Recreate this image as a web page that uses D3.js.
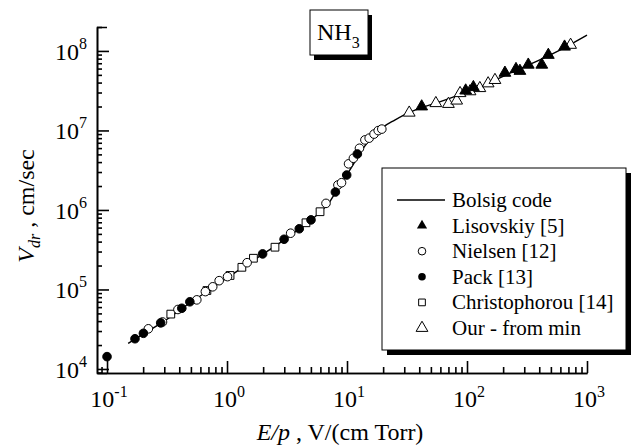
<!DOCTYPE html>
<html>
<head>
<meta charset="utf-8">
<script src="https://cdn.jsdelivr.net/npm/d3@7"></script>
<style>
  body { margin: 0; background: #fff; }
  svg { display: block; }
  svg text { font-family: "Liberation Serif", "Times New Roman", Times, "DejaVu Serif", serif; }
</style>
</head>
<body>
<svg id="chart" width="631" height="447"></svg>
<script>
// values
const bolsigEp = [0.15, 0.2, 0.3, 0.5, 0.7, 1, 1.5, 2, 3, 4, 5, 6, 7, 8, 9, 10, 11, 12, 14, 16, 18, 20, 25, 30, 40, 60, 100, 150, 200, 300, 500, 700, 1000];
const bolsigV = [2.1e4, 2.75e4, 4.0e4, 6.9e4, 9.7e4, 1.4e5, 2.1e5, 2.8e5, 4.2e5, 5.8e5, 7.4e5, 9.5e5, 1.2e6, 1.65e6, 2.2e6, 2.8e6, 3.5e6, 4.4e6, 6.3e6, 8.0e6, 9.6e6, 1.1e7, 1.35e7, 1.57e7, 1.9e7, 2.3e7, 3.05e7, 3.9e7, 4.8e7, 6.3e7, 9.0e7, 1.17e8, 1.58e8];

const lisovskiyEp = [41.9, 97.5, 113, 207, 256, 276, 324, 420, 476, 650];
const lisovskiyV = [2.0e7, 3.17e7, 3.5e7, 5.3e7, 5.9e7, 5.6e7, 6.7e7, 6.7e7, 8.9e7, 1.13e8];

const nielsenEp = [0.221, 0.29, 0.39, 0.56, 0.66, 0.76, 0.86, 1.01, 1.47, 3.39, 6.68, 8.4, 9.0, 10.3, 11.3, 12.7, 14.1, 15.3, 16.8, 18.2, 19.5];
const nielsenV = [3.2e4, 3.9e4, 5.6e4, 7.4e4, 9.4e4, 1.08e5, 1.29e5, 1.45e5, 2.17e5, 5.1e5, 1.21e6, 2.06e6, 2.2e6, 3.8e6, 4.47e6, 5.97e6, 7.6e6, 8.0e6, 9.0e6, 9.96e6, 1.04e7];

const packEp = [0.1, 0.171, 0.201, 0.28, 0.42, 0.49, 1.98, 2.99, 4.0, 5.01, 8.0, 9.94, 12.2];
const packV = [1.43e4, 2.4e4, 2.81e4, 3.8e4, 5.8e4, 7.0e4, 2.8e5, 4.28e5, 5.8e5, 7.5e5, 1.68e6, 2.75e6, 5.06e6];

const christEp = [0.34, 0.68, 1.06, 1.33, 1.66, 2.51, 4.55, 5.96];
const christV = [4.9e4, 9.7e4, 1.5e5, 1.9e5, 2.47e5, 3.4e5, 6.9e5, 9.5e5];

const ourEp = [33, 55, 70, 82, 87.5, 106, 128, 150, 171, 730];
const ourV = [1.67e7, 2.2e7, 2.15e7, 2.37e7, 2.94e7, 3.1e7, 3.4e7, 3.9e7, 4.3e7, 1.19e8];

const xMajor = [0.1, 1, 10, 100, 1000];
const xExp = ["-1", "0", "1", "2", "3"];
const yMajor = [1e4, 1e5, 1e6, 1e7, 1e8];
const yExp = ["4", "5", "6", "7", "8"];

const serif = '"Liberation Serif", "Times New Roman", Times, "DejaVu Serif", serif';
const svg = d3.select("#chart").attr("font-family", serif);
const x = d3.scaleLog().domain([0.0825, 1000]).range([97, 587]);
const y = d3.scaleLog().domain([8.9e3, 2e8]).range([373, 27]);

const zip = (a, b) => a.map((d, i) => [d, b[i]]);

// axes: minor ticks first, then majors
const isMajor = v => Math.abs(Math.log10(v) - Math.round(Math.log10(v))) < 1e-6;
const xMinor = x.ticks().filter(v => !isMajor(v));
const yMinor = y.ticks().filter(v => !isMajor(v));

const xAxisG = svg.append("g").attr("transform", "translate(0,373)");
xAxisG.call(d3.axisBottom(x).tickValues(xMinor).tickSize(-6).tickSizeOuter(0).tickFormat(""));
xAxisG.call(g => g.append("g").call(d3.axisBottom(x).tickValues(xMajor).tickSize(-12).tickSizeOuter(0).tickFormat("")));

const yAxisG = svg.append("g").attr("transform", "translate(97,0)");
yAxisG.call(d3.axisLeft(y).tickValues(yMinor).tickSize(-5).tickSizeOuter(-10).tickFormat(""));
yAxisG.call(g => g.append("g").call(d3.axisLeft(y).tickValues(yMajor).tickSize(-12).tickSizeOuter(0).tickFormat("")));

svg.selectAll(".domain, .tick line").attr("stroke", "#000").attr("stroke-width", 1.6);

// tick labels with superscripts
const xl = svg.append("g").selectAll("text").data(xMajor).join("text")
    .attr("x", d => x(d) + 2).attr("y", 407)
    .attr("text-anchor", "middle").attr("font-size", 24);
xl.append("tspan").text("10");
xl.append("tspan").attr("dy", -10).attr("font-size", 16).text((d, i) => xExp[i]);

const yl = svg.append("g").selectAll("text").data(yMajor).join("text")
    .attr("x", 87).attr("y", d => y(d) + 9)
    .attr("text-anchor", "end").attr("font-size", 24);
yl.append("tspan").text("10");
yl.append("tspan").attr("dy", -11).attr("font-size", 16).text((d, i) => yExp[i]);

// axis titles
const xt = svg.append("text").attr("x", 340).attr("y", 440)
    .attr("text-anchor", "middle").attr("font-size", 24);
xt.append("tspan").attr("font-style", "italic").text("E/p");
xt.append("tspan").text(" , V/(cm Torr)");

const yt = svg.append("text").attr("transform", "translate(34,206) rotate(-90)")
    .attr("text-anchor", "middle").attr("font-size", 24);
yt.append("tspan").attr("font-style", "italic").text("V");
yt.append("tspan").attr("font-style", "italic").attr("font-size", 16).attr("dy", 6).text("dr");
yt.append("tspan").attr("dy", -6).text(" , cm/sec");

// Bolsig curve
const line = d3.line().x(d => x(d[0])).y(d => y(d[1])).curve(d3.curveMonotoneX);
svg.append("path").datum(zip(bolsigEp, bolsigV))
    .attr("d", line).attr("fill", "none").attr("stroke", "#000").attr("stroke-width", 1.4);

// marker shapes
const tri = d3.symbol().type(d3.symbolTriangle).size(60);
const sq = d3.symbol().type(d3.symbolSquare).size(60);

const plot = svg.append("g");
function points(ep, v, kind, fill) {
    const data = zip(ep, v);
    if (kind === "circle") {
        plot.append("g").selectAll("circle").data(data).join("circle")
            .attr("cx", d => x(d[0])).attr("cy", d => y(d[1])).attr("r", 4.3)
            .attr("fill", fill).attr("stroke", "#000").attr("stroke-width", 1);
    } else {
        plot.append("g").selectAll("path").data(data).join("path")
            .attr("d", kind === "tri" ? tri : sq)
            .attr("transform", d => "translate(" + x(d[0]) + "," + y(d[1]) + ")")
            .attr("fill", fill).attr("stroke", "#000").attr("stroke-width", 1);
    }
}
points(christEp, christV, "square", "#fff");
points(nielsenEp, nielsenV, "circle", "#fff");
points(packEp, packV, "circle", "#000");
points(ourEp, ourV, "tri", "#fff");
points(lisovskiyEp, lisovskiyV, "tri", "#000");

// NH3 label box
svg.append("rect").attr("x", 314).attr("y", 15).attr("width", 58).attr("height", 45).attr("fill", "#000");
svg.append("rect").attr("x", 310).attr("y", 10).attr("width", 58).attr("height", 45)
    .attr("fill", "#fff").attr("stroke", "#000").attr("stroke-width", 1);
const nh = svg.append("text").attr("x", 317).attr("y", 40).attr("font-size", 24);
nh.append("tspan").text("NH");
nh.append("tspan").attr("dy", 8).attr("font-size", 16).text("3");

// legend
const legendNames = ["Bolsig code", "Lisovskiy [5]", "Nielsen [12]", "Pack [13]", "Christophorou [14]", "Our - from min"];
svg.append("rect").attr("x", 387).attr("y", 173).attr("width", 245).attr("height", 182).attr("fill", "#000");
svg.append("rect").attr("x", 382).attr("y", 168).attr("width", 244).attr("height", 182)
    .attr("fill", "#fff").attr("stroke", "#000").attr("stroke-width", 1);
const lg = svg.append("g");
const ly = i => 200 + i * 25.6;
lg.append("line").attr("x1", 397).attr("x2", 445).attr("y1", ly(0)).attr("y2", ly(0))
    .attr("stroke", "#000").attr("stroke-width", 1.4);
const lsym = d3.symbol().size(45);
lg.append("path").attr("d", lsym.type(d3.symbolTriangle)()).attr("transform", `translate(422,${ly(1)})`).attr("fill", "#000");
lg.append("circle").attr("cx", 422).attr("cy", ly(2)).attr("r", 3.8).attr("fill", "#fff").attr("stroke", "#000");
lg.append("circle").attr("cx", 422).attr("cy", ly(3)).attr("r", 3.8).attr("fill", "#000");
lg.append("path").attr("d", lsym.type(d3.symbolSquare)()).attr("transform", `translate(422,${ly(4)})`).attr("fill", "#fff").attr("stroke", "#000");
lg.append("path").attr("d", d3.symbol().type(d3.symbolTriangle).size(60)()).attr("transform", `translate(422,${ly(5)})`).attr("fill", "#fff").attr("stroke", "#000");
lg.selectAll("text").data(legendNames).join("text")
    .attr("x", 452).attr("y", (d, i) => ly(i) + 7).attr("font-size", 21).text(d => d);
</script>
</body>
</html>
